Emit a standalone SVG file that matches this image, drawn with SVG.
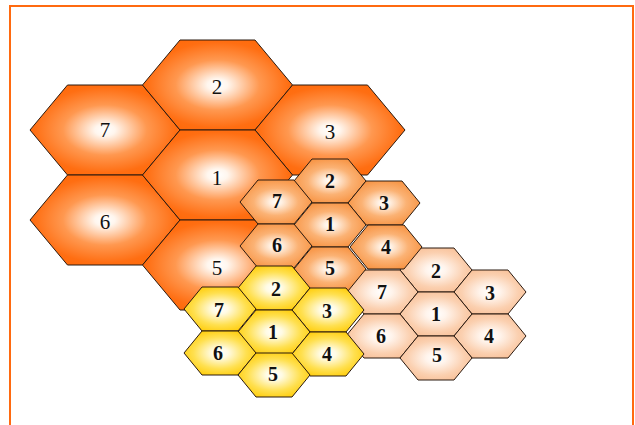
<svg xmlns="http://www.w3.org/2000/svg" xmlns:xlink="http://www.w3.org/1999/xlink" width="635" height="425" viewBox="0 0 635 425">
<style>
.hex{stroke:#2a1a10;stroke-width:1;stroke-linejoin:round}
.big{fill:url(#gBig)}
.med{fill:url(#gMed)}
.pea{fill:url(#gPea)}
.yel{fill:url(#gYel)}
text{font-family:"Liberation Serif","Times New Roman",serif;font-size:21px;fill:#111;text-anchor:middle}
.sm text{font-weight:bold;font-size:20px}
</style>
<defs>
<radialGradient id="gBig" cx="50%" cy="50%" r="56%">
<stop offset="0" stop-color="#ffffff"/>
<stop offset="0.12" stop-color="#fff6ee"/>
<stop offset="0.5" stop-color="#ff9850"/>
<stop offset="0.85" stop-color="#ff6e12"/>
<stop offset="1" stop-color="#ff6a0a"/>
</radialGradient>
<radialGradient id="gMed" cx="50%" cy="50%" r="56%">
<stop offset="0" stop-color="#ffffff"/>
<stop offset="0.15" stop-color="#fff0e2"/>
<stop offset="0.55" stop-color="#fbb274"/>
<stop offset="1" stop-color="#f7913f"/>
</radialGradient>
<radialGradient id="gPea" cx="50%" cy="50%" r="56%">
<stop offset="0" stop-color="#ffffff"/>
<stop offset="0.25" stop-color="#fff4ec"/>
<stop offset="0.7" stop-color="#fbd0b0"/>
<stop offset="1" stop-color="#f8c098"/>
</radialGradient>
<radialGradient id="gYel" cx="50%" cy="50%" r="56%">
<stop offset="0" stop-color="#ffffff"/>
<stop offset="0.2" stop-color="#fffbe4"/>
<stop offset="0.65" stop-color="#ffe050"/>
<stop offset="1" stop-color="#ffcc08"/>
</radialGradient>
<polygon id="bigHex" points="-75,0 -37.5,-45 37.5,-45 75,0 37.5,45 -37.5,45"/>
<polygon id="smHex" points="-36,0 -18,-22 18,-22 36,0 18,22 -18,22"/>
</defs>
<rect x="10" y="6" width="623" height="440" fill="#ffffff" stroke="#ff6a10" stroke-width="2"/>

<g id="big">
<g id="big-7"><use xlink:href="#bigHex" href="#bigHex" class="hex big" x="105" y="130"/><text x="105" y="137">7</text></g>
<g id="big-6"><use xlink:href="#bigHex" href="#bigHex" class="hex big" x="105" y="220"/><text x="105" y="229">6</text></g>
<g id="big-2"><use xlink:href="#bigHex" href="#bigHex" class="hex big" x="217.5" y="85"/><text x="217" y="94">2</text></g>
<g id="big-3"><use xlink:href="#bigHex" href="#bigHex" class="hex big" x="330" y="130"/><text x="330" y="139">3</text></g>
<g id="big-1"><use xlink:href="#bigHex" href="#bigHex" class="hex big" x="217.5" y="175"/><text x="217" y="185">1</text></g>
<g id="big-5"><use xlink:href="#bigHex" href="#bigHex" class="hex big" x="217.5" y="265"/><text x="217" y="275">5</text></g>
</g>

<g id="peach" class="sm">
<g id="peach-2"><use xlink:href="#smHex" href="#smHex" class="hex pea" x="436" y="270"/><text x="436" y="278">2</text></g>
<g id="peach-7"><use xlink:href="#smHex" href="#smHex" class="hex pea" x="382" y="292"/><text x="382" y="299">7</text></g>
<g id="peach-3"><use xlink:href="#smHex" href="#smHex" class="hex pea" x="490" y="292"/><text x="490" y="300">3</text></g>
<g id="peach-1"><use xlink:href="#smHex" href="#smHex" class="hex pea" x="436" y="314"/><text x="436" y="321">1</text></g>
<g id="peach-6"><use xlink:href="#smHex" href="#smHex" class="hex pea" x="382" y="336"/><text x="381" y="343">6</text></g>
<g id="peach-4"><use xlink:href="#smHex" href="#smHex" class="hex pea" x="490" y="336"/><text x="489" y="343">4</text></g>
<g id="peach-5"><use xlink:href="#smHex" href="#smHex" class="hex pea" x="436" y="358"/><text x="437" y="362">5</text></g>
</g>

<g id="medium" class="sm">
<g id="med-2"><use xlink:href="#smHex" href="#smHex" class="hex med" x="330" y="181"/><text x="330" y="188">2</text></g>
<g id="med-7"><use xlink:href="#smHex" href="#smHex" class="hex med" x="276" y="202"/><text x="277" y="208">7</text></g>
<g id="med-3"><use xlink:href="#smHex" href="#smHex" class="hex med" x="384" y="203"/><text x="384" y="210">3</text></g>
<g id="med-1"><use xlink:href="#smHex" href="#smHex" class="hex med" x="330" y="225"/><text x="330" y="231">1</text></g>
<g id="med-6"><use xlink:href="#smHex" href="#smHex" class="hex med" x="276" y="246"/><text x="277" y="252">6</text></g>
<g id="med-4"><use xlink:href="#smHex" href="#smHex" class="hex med" x="386" y="247"/><text x="386" y="254">4</text></g>
<g id="med-5"><use xlink:href="#smHex" href="#smHex" class="hex med" x="330" y="269"/><text x="330" y="275">5</text></g>
</g>

<g id="yellow" class="sm">
<g id="yel-2"><use xlink:href="#smHex" href="#smHex" class="hex yel" x="274" y="288"/><text x="276" y="296">2</text></g>
<g id="yel-7"><use xlink:href="#smHex" href="#smHex" class="hex yel" x="220" y="309"/><text x="219" y="317">7</text></g>
<g id="yel-3"><use xlink:href="#smHex" href="#smHex" class="hex yel" x="328" y="310"/><text x="327" y="318">3</text></g>
<g id="yel-1"><use xlink:href="#smHex" href="#smHex" class="hex yel" x="274" y="332"/><text x="273" y="339">1</text></g>
<g id="yel-6"><use xlink:href="#smHex" href="#smHex" class="hex yel" x="220" y="353"/><text x="218" y="360">6</text></g>
<g id="yel-4"><use xlink:href="#smHex" href="#smHex" class="hex yel" x="328" y="354"/><text x="327" y="361">4</text></g>
<g id="yel-5"><use xlink:href="#smHex" href="#smHex" class="hex yel" x="274" y="375"/><text x="273" y="381">5</text></g>
</g>
</svg>
